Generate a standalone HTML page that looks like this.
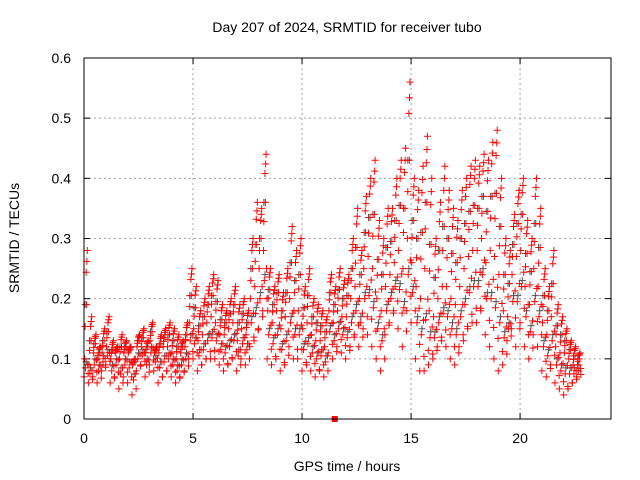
<!DOCTYPE html>
<html><head><meta charset="utf-8"><style>
body{margin:0;background:#fff}
svg{display:block;font-family:"Liberation Sans",sans-serif}
</style></head><body>
<svg id="c" width="640" height="480">
<text x="347" y="32" font-size="14" text-anchor="middle">Day 207 of 2024, SRMTID for receiver tubo</text>
<text x="347" y="471" font-size="14" text-anchor="middle">GPS time / hours</text>
<text transform="translate(19,238) rotate(-90)" font-size="14" text-anchor="middle">SRMTID / TECUs</text>
<g id="grid"></g>
<g id="ticks"></g>
<g id="gray"></g>
<g id="red"></g>
<rect x="84" y="58" width="527" height="361" fill="none" stroke="#000" stroke-width="1"/>
</svg>
<script>
const xTicks=[0,5,10,15,20];
const yTicks=[0,0.1,0.2,0.3,0.4,0.5,0.6];
const yTickLabels=["0","0.1","0.2","0.3","0.4","0.5","0.6"];
const times=[0,0.2,0.4,0.6,0.8,1,1.2,1.4,1.6,1.8,2,2.2,2.4,2.6,2.8,3,3.2,3.4,3.6,3.8,4,4.2,4.4,4.6,4.8,5,5.2,5.4,5.6,5.8,6,6.2,6.4,6.6,6.8,7,7.2,7.4,7.6,7.8,8,8.2,8.4,8.6,8.8,9,9.2,9.4,9.6,9.8,10,10.2,10.4,10.6,10.8,11,11.2,11.4,11.6,11.8,12,12.2,12.4,12.6,12.8,13,13.2,13.4,13.6,13.8,14,14.2,14.4,14.6,14.8,15,15.2,15.4,15.6,15.8,16,16.2,16.4,16.6,16.8,17,17.2,17.4,17.6,17.8,18,18.2,18.4,18.6,18.8,19,19.2,19.4,19.6,19.8,20,20.2,20.4,20.6,20.8,21,21.2,21.4,21.6,21.8,22,22.2,22.4,22.6];
const hiVals=[.28,.17,.14,.12,.15,.17,.13,.12,.14,.13,.12,.10,.14,.15,.13,.16,.12,.14,.15,.16,.15,.14,.13,.16,.25,.22,.18,.20,.22,.24,.23,.19,.18,.20,.22,.19,.20,.18,.30,.36,.35,.44,.25,.22,.24,.21,.25,.32,.28,.30,.22,.25,.20,.19,.18,.17,.24,.22,.25,.23,.24,.30,.35,.28,.37,.40,.43,.33,.30,.35,.35,.40,.43,.45,.56,.40,.38,.42,.47,.40,.30,.36,.42,.38,.35,.33,.38,.40,.42,.43,.42,.44,.43,.46,.48,.40,.30,.28,.34,.38,.40,.33,.30,.40,.35,.25,.22,.28,.19,.17,.15,.13,.12,.11];
const midVals=[.10,.09,.11,.10,.11,.12,.10,.11,.10,.11,.11,.09,.12,.12,.11,.13,.11,.11,.12,.12,.11,.10,.11,.12,.16,.15,.13,.14,.16,.17,.16,.14,.14,.15,.16,.13,.15,.14,.20,.22,.25,.28,.18,.16,.18,.15,.17,.20,.18,.18,.15,.16,.14,.13,.13,.12,.18,.16,.18,.17,.17,.20,.22,.20,.25,.27,.25,.20,.18,.22,.24,.26,.28,.25,.30,.26,.22,.20,.25,.18,.17,.20,.22,.22,.20,.19,.22,.25,.27,.28,.28,.30,.26,.28,.27,.24,.18,.17,.24,.27,.28,.22,.19,.25,.22,.16,.14,.17,.12,.11,.11,.10,.09,.09];
const loVals=[.07,.06,.07,.06,.08,.09,.06,.07,.05,.07,.06,.04,.08,.09,.07,.09,.08,.06,.07,.08,.07,.06,.07,.08,.10,.10,.08,.09,.10,.10,.10,.09,.08,.09,.10,.08,.10,.09,.12,.13,.15,.18,.10,.09,.10,.08,.09,.12,.10,.10,.08,.09,.08,.07,.08,.07,.11,.10,.12,.11,.10,.12,.14,.12,.15,.14,.12,.10,.08,.14,.16,.18,.15,.12,.18,.16,.10,.08,.08,.09,.10,.12,.13,.12,.10,.09,.12,.13,.15,.16,.16,.18,.14,.12,.10,.08,.09,.13,.15,.12,.16,.12,.10,.14,.12,.08,.07,.09,.06,.05,.04,.05,.06,.07];
const markerTime=[11.5];
const markerVal=[0];
const X=t=>84+t*(527/24.17);
const Y=v=>419-v*(361/0.6);
const NS="http://www.w3.org/2000/svg";
function mk(tag,attrs,parent){const e=document.createElementNS(NS,tag);for(const k in attrs)e.setAttribute(k,attrs[k]);parent.appendChild(e);return e;}
const grid=document.getElementById('grid'),ticks=document.getElementById('ticks');
xTicks.forEach(t=>{const x=X(t);
 if(t>0){const g=mk('line',{x1:x,x2:x,y1:58,y2:419,stroke:'#a0a0a0','stroke-dasharray':'2,3'},grid);}
 const l=mk('line',{x1:x,x2:x,y1:419,y2:413,stroke:'#000'},ticks);
 const l2=mk('line',{x1:x,x2:x,y1:58,y2:64,stroke:'#000'},ticks);
 const tx=mk('text',{x:x,y:443,'font-size':14,'text-anchor':'middle'},ticks);tx.textContent=String(t);});
yTicks.forEach((v,i)=>{const y=Y(v);
 if(v>0){const g=mk('line',{x1:84,x2:611,y1:y,y2:y,stroke:'#a0a0a0','stroke-dasharray':'2,3'},grid);}
 const l=mk('line',{x1:84,x2:90,y1:y,y2:y,stroke:'#000'},ticks);
 const l2=mk('line',{x1:605,x2:611,y1:y,y2:y,stroke:'#000'},ticks);
 const tx=mk('text',{x:71,y:y+5,'font-size':14,'text-anchor':'end'},ticks);tx.textContent=yTickLabels[i];});
function plus(g,t,v,col){const x=X(t),y=Y(v);const p=mk('path',{d:`M${x-3.5},${y}h7M${x},${y-3.5}v7`,stroke:col,'stroke-width':1,fill:'none'},g);}
const red=document.getElementById('red'),gray=document.getElementById('gray');
times.forEach((t,i)=>{const lo=loVals[i],m=midVals[i],hi=hiVals[i];
 plus(gray,t+0.1,(lo+m)/2+0.01,'#505050');plus(gray,t+0.05,(m+hi)/2,'#505050');
 plus(red,t,lo,'#f00');plus(red,t+0.07,(lo+m)/2,'#f00');plus(red,t+0.03,m,'#f00');plus(red,t+0.12,(m+hi)/2,'#f00');plus(red,t+0.15,hi,'#f00');plus(red,t+0.1,hi-(hi-m)*0.2,'#f00');plus(red,t+0.17,m-(m-lo)*0.3,'#f00');
 plus(red,t+0.13,hi-(hi-m)*0.1,'#f00');plus(red,t+0.05,m+(hi-m)*0.3,'#f00');plus(red,t+0.19,lo+(m-lo)*0.2,'#f00');});
markerTime.forEach((t,i)=>{const r=mk('rect',{x:X(t)-3,y:Y(markerVal[i])-3,width:6,height:6,fill:'#f00'},red);});
</script>
</body></html>
